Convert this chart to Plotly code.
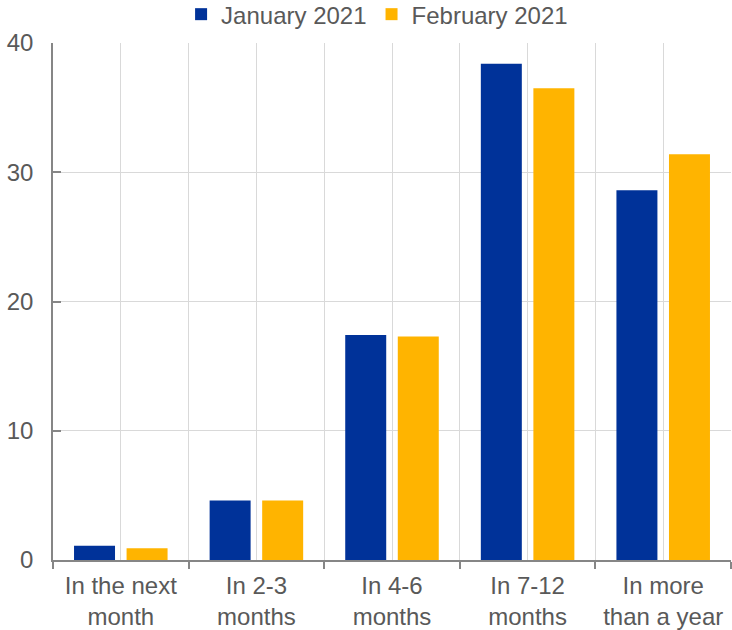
import plotly.graph_objects as go

categories = ["In the next<br>month", "In 2-3<br>months", "In 4-6<br>months",
              "In 7-12<br>months", "In more<br>than a year"]
jan_2021 = [1.1, 4.6, 17.4, 38.4, 28.6]
feb_2021 = [0.9, 4.6, 17.3, 36.5, 31.4]
y_ticks = [0, 10, 20, 30, 40]

BLUE = "#003299"
YELLOW = "#FFB400"
GRID = "#d9d9d9"
AXIS = "#868686"
TEXT = "#595959"
FONT = "Liberation Sans, Arial, sans-serif"

fig = go.Figure()
fig.add_trace(go.Bar(x=categories, y=jan_2021, name="January 2021",
                     marker=dict(color=BLUE, line=dict(width=0))))
fig.add_trace(go.Bar(x=categories, y=feb_2021, name="February 2021",
                     marker=dict(color=YELLOW, line=dict(width=0))))
# invisible helper trace on an overlay axis to draw gridlines at category centres
fig.add_trace(go.Scatter(x=[0, len(categories) - 1], y=[0, 0], xaxis="x2",
                         mode="markers", marker=dict(opacity=0),
                         showlegend=False, hoverinfo="skip"))

fig.update_layout(
    width=732, height=630,
    margin=dict(l=53, r=1, t=43, b=70, autoexpand=False),
    paper_bgcolor="white", plot_bgcolor="white",
    font=dict(family=FONT, size=24, color=TEXT),
    barmode="group", bargap=0.225, bargroupgap=0.22,
    showlegend=True,
    legend=dict(orientation="h", x=0.478, xanchor="center", y=1.055, yanchor="middle",
                font=dict(size=24, color=TEXT), bgcolor="rgba(0,0,0,0)",
                itemwidth=30, tracegroupgap=0),
    xaxis=dict(type="category", tickson="boundaries", ticks="outside", ticklen=7,
               tickcolor=AXIS, tickwidth=1.5, showline=True, linecolor=AXIS,
               linewidth=1.5, showgrid=True, gridcolor=GRID, gridwidth=1.2,
               tickfont=dict(size=24, color=TEXT), range=[-0.5, len(categories) - 0.5],
               ticklabelstandoff=3, automargin=False),
    xaxis2=dict(overlaying="x", range=[-0.5, len(categories) - 0.5], showgrid=True,
                gridcolor=GRID, gridwidth=1.2, tick0=0, dtick=1,
                showticklabels=False, ticks="", zeroline=False, showline=False,
                automargin=False),
    yaxis=dict(range=[0, 40], tickvals=y_ticks, ticks="inside", ticklen=8,
               tickcolor=AXIS, tickwidth=1.5, showline=True, linecolor=AXIS,
               linewidth=1.5, showgrid=True, gridcolor=GRID, gridwidth=1.2,
               zeroline=False, tickfont=dict(size=24, color=TEXT),
               ticklabelstandoff=13, automargin=False),
)

fig.write_html("out.html",
               config={"displayModeBar": False},
               post_script="document.body.style.margin='0';document.body.style.padding='0';")
